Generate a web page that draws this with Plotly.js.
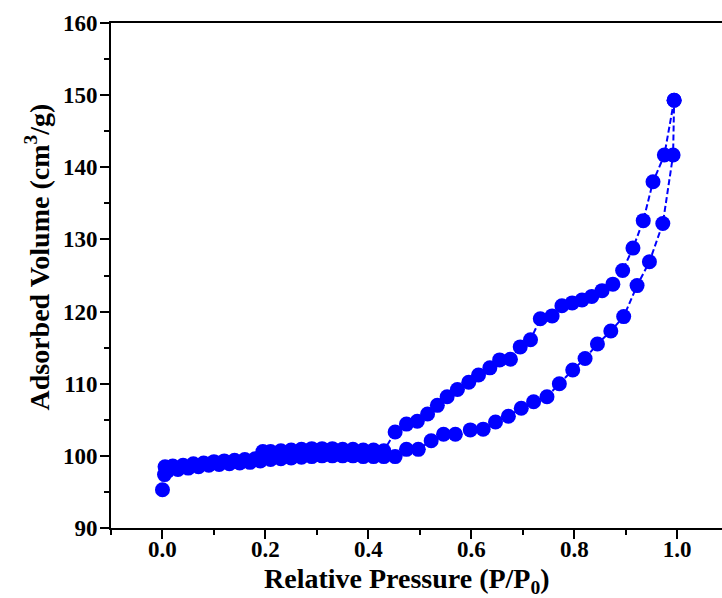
<!DOCTYPE html>
<html>
<head>
<meta charset="utf-8">
<script src="https://cdn.plot.ly/plotly-3.0.1.min.js"></script>
<style>html,body{margin:0;padding:0;background:#fff;}#chart{width:722px;height:598px;}</style>
</head>
<body>
<div id="chart"></div>
<script>
// Adsorption branch (lower)
const adsP = [0.000, 0.004, 0.010, 0.030, 0.050, 0.070, 0.090, 0.110, 0.130, 0.150, 0.170, 0.190,
  0.210, 0.230, 0.250, 0.270, 0.290, 0.310, 0.330, 0.350, 0.370, 0.390, 0.410, 0.430, 0.452,
  0.474, 0.497, 0.522, 0.546, 0.569, 0.598, 0.623, 0.647, 0.672, 0.697, 0.721, 0.747, 0.771,
  0.797, 0.821, 0.845, 0.871, 0.896, 0.922, 0.946, 0.972, 0.992, 0.994];
const adsV = [95.3, 97.4, 97.9, 98.1, 98.3, 98.5, 98.7, 98.8, 98.9, 99.0, 99.1, 99.3,
  99.5, 99.6, 99.7, 99.8, 99.9, 100.0, 100.0, 100.0, 100.0, 99.9, 99.9, 99.9, 99.9,
  100.9, 100.9, 102.1, 103.0, 103.0, 103.6, 103.7, 104.7, 105.5, 106.6, 107.5, 108.2, 110.0,
  111.9, 113.5, 115.5, 117.3, 119.3, 123.6, 126.9, 132.2, 141.7, 149.3];

// Desorption branch (upper)
const desP = [0.994, 0.975, 0.953, 0.934, 0.914, 0.894, 0.875, 0.854, 0.834, 0.815, 0.796, 0.776,
  0.757, 0.734, 0.715, 0.695, 0.676, 0.655, 0.636, 0.614, 0.595, 0.573, 0.553, 0.534, 0.515,
  0.495, 0.474, 0.452, 0.430, 0.410, 0.390, 0.370, 0.350, 0.330, 0.310, 0.290, 0.270, 0.250,
  0.230, 0.210, 0.195, 0.180, 0.160, 0.140, 0.120, 0.100, 0.080, 0.060, 0.040, 0.020, 0.005];
const desV = [149.3, 141.7, 138.0, 132.6, 128.8, 125.7, 123.8, 122.9, 122.1, 121.6, 121.2, 120.8,
  119.4, 119.0, 116.1, 115.1, 113.4, 113.3, 112.2, 111.2, 110.2, 109.2, 108.2, 107.0, 105.8,
  104.8, 104.4, 103.3, 100.7, 100.8, 100.8, 100.9, 100.9, 101.0, 101.0, 101.0, 100.9, 100.8,
  100.7, 100.6, 100.6, 99.6, 99.5, 99.4, 99.3, 99.2, 99.0, 98.9, 98.7, 98.6, 98.5];

const xTicks = [0.0, 0.2, 0.4, 0.6, 0.8, 1.0];
const xTickText = ['0.0', '0.2', '0.4', '0.6', '0.8', '1.0'];
const yTicks = [90, 100, 110, 120, 130, 140, 150, 160];
const xTitle = 'Relative Pressure (P/P<sub>0</sub>)';
const yTitle = 'Adsorbed Volume (cm<sup>3</sup>/g)';

const blue = '#0000FF';
const common = {
  mode: 'lines+markers',
  line: {color: blue, width: 2, dash: '6px,3px'},
  marker: {color: blue, size: 15},
  showlegend: false,
  hoverinfo: 'skip'
};

const traces = [
  Object.assign({x: adsP, y: adsV, type: 'scatter'}, common),
  Object.assign({x: desP, y: desV, type: 'scatter'}, common)
];

const fam = 'Liberation Serif, Times New Roman, serif';
const tickFont = {family: fam, size: 23, color: '#000'};
const titleFont = {family: fam, size: 28, color: '#000'};

const layout = {
  width: 722, height: 598,
  margin: {l: 111, r: 0, t: 23, b: 70, pad: 0},
  paper_bgcolor: '#fff', plot_bgcolor: '#fff',
  xaxis: {
    range: [-0.1, 1.087],
    showgrid: false, zeroline: false,
    showline: true, linecolor: '#000', linewidth: 2, mirror: true,
    ticks: 'outside', ticklen: 9, tickwidth: 2, tickcolor: '#000',
    tickvals: xTicks,
    ticktext: xTickText.map(t => '<b>' + t + '</b>'),
    tickfont: tickFont,
    ticklabelstandoff: -10,
    minor: {dtick: 0.1, tick0: 0, ticks: 'outside', ticklen: 5, tickwidth: 2, tickcolor: '#000', showgrid: false}
  },
  yaxis: {
    range: [90, 160],
    showgrid: false, zeroline: false,
    showline: true, linecolor: '#000', linewidth: 2, mirror: false,
    ticks: 'outside', ticklen: 9, tickwidth: 2, tickcolor: '#000',
    tickvals: yTicks,
    ticktext: yTicks.map(t => '<b>' + t + '</b>'),
    tickfont: tickFont,
    ticklabelstandoff: -2,
    minor: {dtick: 5, tick0: 90, ticks: 'outside', ticklen: 5, tickwidth: 2, tickcolor: '#000', showgrid: false}
  },
  annotations: [
    {text: '<b>' + xTitle + '</b>', xref: 'paper', yref: 'paper', x: 0.4845, y: -0.103,
     xanchor: 'center', yanchor: 'middle', showarrow: false, font: titleFont},
    {text: '<b>' + yTitle + '</b>', xref: 'paper', yref: 'paper', x: -0.12, y: 0.537,
     xanchor: 'center', yanchor: 'middle', textangle: -90, showarrow: false, font: titleFont}
  ]
};

Plotly.newPlot('chart', traces, layout, {staticPlot: true, displayModeBar: false});
</script>
</body>
</html>
